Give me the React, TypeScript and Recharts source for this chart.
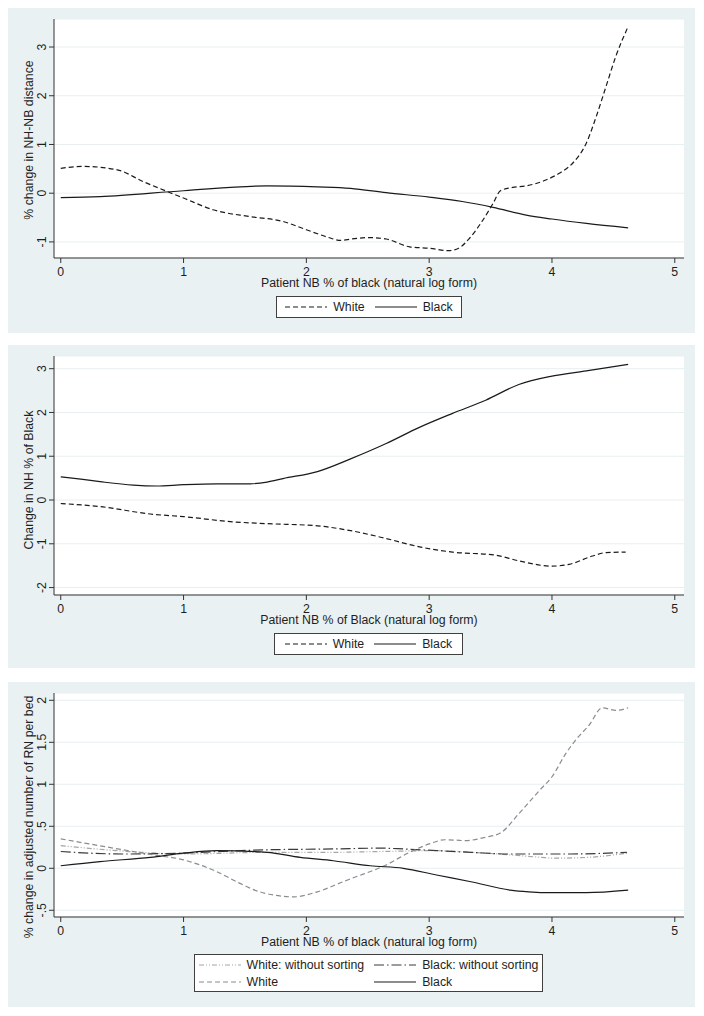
import React from "react";
import { LineChart, Line, XAxis, YAxis, CartesianGrid, Legend } from "recharts";

const X_TICKS = [0, 1, 2, 3, 4, 5];

// top panel: % change in NH-NB distance
const distWhiteX = [0, 0.18, 0.46, 0.67, 0.89, 1.0, 1.24, 1.54, 1.81, 2.0, 2.17, 2.28, 2.37, 2.51, 2.65, 2.84, 3.0, 3.16, 3.24, 3.33, 3.43, 3.52, 3.58, 3.68, 3.79, 3.95, 4.06, 4.17, 4.28, 4.36, 4.44, 4.52, 4.62];
const distWhiteY = [0.51, 0.55, 0.48, 0.24, 0.01, -0.1, -0.34, -0.48, -0.58, -0.75, -0.9, -0.97, -0.94, -0.91, -0.94, -1.1, -1.13, -1.18, -1.13, -0.92, -0.58, -0.21, 0.05, 0.12, 0.15, 0.27, 0.41, 0.62, 1.03, 1.57, 2.19, 2.81, 3.42];
const distBlackX = [0, 0.32, 1.0, 1.68, 2.09, 2.36, 2.65, 3.0, 3.27, 3.52, 3.79, 4.0, 4.28, 4.62];
const distBlackY = [-0.09, -0.07, 0.05, 0.15, 0.13, 0.1, 0.01, -0.08, -0.17, -0.29, -0.45, -0.53, -0.62, -0.71];

// middle panel: change in NH % of Black
const shareWhiteX = [0, 0.32, 0.73, 1.0, 1.41, 1.68, 2.09, 2.36, 2.65, 2.92, 3.19, 3.54, 3.73, 4.0, 4.14, 4.33, 4.44, 4.6];
const shareWhiteY = [-0.08, -0.15, -0.32, -0.38, -0.5, -0.54, -0.59, -0.7, -0.88, -1.07, -1.19, -1.26, -1.39, -1.51, -1.47, -1.28, -1.2, -1.19];
const shareBlackX = [0, 0.18, 0.32, 0.59, 0.78, 1.0, 1.27, 1.54, 1.68, 1.81, 2.09, 2.36, 2.65, 2.92, 3.19, 3.46, 3.73, 4.0, 4.28, 4.62];
const shareBlackY = [0.53, 0.47, 0.42, 0.34, 0.32, 0.35, 0.37, 0.37, 0.41, 0.49, 0.65, 0.94, 1.29, 1.66, 1.98, 2.28, 2.64, 2.83, 2.95, 3.1];

// bottom panel: % change in adjusted RN per bed
const rnWhiteNsX = [0, 0.66, 1.0, 1.68, 2.22, 2.6, 3.06, 3.34, 3.66, 3.91, 4.01, 4.29, 4.61];
const rnWhiteNsY = [0.27, 0.19, 0.17, 0.19, 0.19, 0.2, 0.21, 0.19, 0.16, 0.13, 0.12, 0.13, 0.18];
const rnBlackNsX = [0, 0.5, 1.0, 1.14, 1.68, 2.22, 2.6, 2.79, 3.06, 3.34, 3.66, 4.15, 4.61];
const rnBlackNsY = [0.2, 0.17, 0.18, 0.19, 0.22, 0.23, 0.24, 0.23, 0.21, 0.19, 0.17, 0.17, 0.19];
const rnWhiteX = [0, 0.75, 1.0, 1.27, 1.46, 1.62, 1.9, 2.09, 2.3, 2.37, 2.65, 2.84, 3.0, 3.13, 3.3, 3.46, 3.58, 3.73, 3.9, 4.0, 4.11, 4.2, 4.3, 4.41, 4.52, 4.62];
const rnWhiteY = [0.35, 0.16, 0.1, -0.04, -0.18, -0.28, -0.34, -0.28, -0.16, -0.12, 0.04, 0.19, 0.29, 0.34, 0.33, 0.37, 0.42, 0.65, 0.93, 1.09, 1.36, 1.54, 1.7, 1.91, 1.88, 1.91];
const rnBlackX = [0, 0.32, 0.73, 1.0, 1.27, 1.68, 1.95, 2.22, 2.52, 2.79, 3.06, 3.34, 3.66, 3.81, 4.0, 4.28, 4.62];
const rnBlackY = [0.03, 0.08, 0.13, 0.18, 0.21, 0.19, 0.13, 0.09, 0.03, 0.0, -0.08, -0.16, -0.26, -0.28, -0.29, -0.29, -0.26];

const BG = "#eaf1f3";
const GRID = "#e8eff1";
const INK = "#1e1e1e";
const AXIS = "#333";
const FONT = '"Liberation Sans", Arial, sans-serif';
const FS = 12.3;

const pts = (xs: number[], ys: number[]) => xs.map((x, i) => ({ x, y: ys[i] }));
const stataNum = (v: number) => String(v).replace(/^(-?)0\./, "$1.");

type Series = { name: string; xs: number[]; ys: number[]; stroke: string; dash?: string };

function YTick(props: any) {
  const { x, y, payload } = props;
  return (
    <text x={x} y={y} transform={`rotate(-90, ${x}, ${y})`} textAnchor="middle" fontSize={FS} fill={INK} fontFamily={FONT}>
      {stataNum(payload.value)}
    </text>
  );
}

function XTitle(props: any) {
  const { viewBox, value } = props;
  return (
    <text x={viewBox.x + viewBox.width / 2} y={viewBox.y + 29} textAnchor="middle" fontSize={FS} fill={INK} fontFamily={FONT}>
      {value}
    </text>
  );
}

function YTitle(props: any) {
  const { viewBox, value, shift } = props;
  const x = viewBox.x + 24.5;
  const y = viewBox.y + viewBox.height / 2 + shift;
  return (
    <text x={x} y={y} transform={`rotate(-90, ${x}, ${y})`} textAnchor="middle" fontSize={FS} fill={INK} fontFamily={FONT}>
      {value}
    </text>
  );
}

function Sample({ s }: { s: Series }) {
  return (
    <svg width={42} height={10} style={{ display: "block", flex: "none" }}>
      <line x1={0} y1={5} x2={42} y2={5} stroke={s.stroke} strokeWidth={1.2} strokeDasharray={s.dash} />
    </svg>
  );
}

function LegendBox({ series, cols, height }: { series: Series[]; cols: number; height: number }) {
  return (
    <div
      style={{
        boxSizing: "border-box",
        height,
        border: "1px solid #404040",
        background: "#fff",
        display: "grid",
        gridTemplateColumns: `repeat(${cols}, auto)`,
        justifyContent: "center",
        alignContent: "center",
        columnGap: 10,
        rowGap: 2,
        fontFamily: FONT,
        fontSize: FS,
        color: INK,
        whiteSpace: "nowrap",
      }}
    >
      {series.map((s) => (
        <div key={s.name} style={{ display: "flex", alignItems: "center", gap: 6, height: 15 }}>
          <Sample s={s} />
          <span>{s.name}</span>
        </div>
      ))}
    </div>
  );
}

type PanelProps = {
  top: number;
  height: number;
  bottomMargin: number;
  xAxisHeight: number;
  yDomain: [number, number];
  yTicks: number[];
  yLabel: string;
  yShift: number;
  xLabel: string;
  series: Series[];
  legendLeft: number;
  legendWidth: number;
  legendHeight: number;
  legendCols: number;
};

function Panel(p: PanelProps) {
  return (
    <div style={{ position: "absolute", left: 0, top: p.top, width: 687, height: p.height, background: BG }}>
      <LineChart width={687} height={p.height} margin={{ top: 11, right: 11, left: 0, bottom: p.bottomMargin }}>
        <CartesianGrid vertical={false} stroke={GRID} fill="#fff" />
        <XAxis
          type="number"
          dataKey="x"
          domain={[-0.055, 5.075]}
          ticks={X_TICKS}
          interval={0}
          allowDataOverflow
          height={p.xAxisHeight}
          tickSize={5}
          tickMargin={4}
          stroke={AXIS}
          tick={{ fill: INK, fontSize: FS, fontFamily: FONT }}
          label={<XTitle value={p.xLabel} />}
        />
        <YAxis
          type="number"
          domain={p.yDomain}
          ticks={p.yTicks}
          interval={0}
          allowDataOverflow
          width={46}
          tickSize={5}
          tickMargin={3}
          stroke={AXIS}
          tick={<YTick />}
          label={<YTitle value={p.yLabel} shift={p.yShift} />}
        />
        <Legend
          verticalAlign="bottom"
          content={() => <LegendBox series={p.series} cols={p.legendCols} height={p.legendHeight} />}
          wrapperStyle={{ left: p.legendLeft, bottom: p.bottomMargin, width: p.legendWidth, height: p.legendHeight }}
        />
        {p.series.map((s) => (
          <Line
            key={s.name}
            name={s.name}
            data={pts(s.xs, s.ys)}
            dataKey="y"
            type="monotone"
            stroke={s.stroke}
            strokeWidth={1.2}
            strokeDasharray={s.dash}
            dot={false}
            activeDot={false}
            isAnimationActive={false}
          />
        ))}
      </LineChart>
    </div>
  );
}

export default function App() {
  const dark = "#1a1a1a";
  return (
    <div style={{ position: "relative", width: 687, height: 1000 }}>
      <Panel
        top={0}
        height={325}
        bottomMargin={15}
        xAxisHeight={38}
        yDomain={[-1.33, 3.575]}
        yTicks={[-1, 0, 1, 2, 3]}
        yLabel="% change in NH-NB distance"
        yShift={1.5}
        xLabel="Patient NB % of black (natural log form)"
        series={[
          { name: "White", xs: distWhiteX, ys: distWhiteY, stroke: dark, dash: "5 3" },
          { name: "Black", xs: distBlackX, ys: distBlackY, stroke: dark },
        ]}
        legendLeft={268}
        legendWidth={186}
        legendHeight={22}
        legendCols={2}
      />
      <Panel
        top={337}
        height={323}
        bottomMargin={13}
        xAxisHeight={38}
        yDomain={[-2.17, 3.29]}
        yTicks={[-2, -1, 0, 1, 2, 3]}
        yLabel="Change in NH % of Black"
        yShift={4.5}
        xLabel="Patient NB % of Black (natural log form)"
        series={[
          { name: "White", xs: shareWhiteX, ys: shareWhiteY, stroke: dark, dash: "5 3" },
          { name: "Black", xs: shareBlackX, ys: shareBlackY, stroke: dark },
        ]}
        legendLeft={266}
        legendWidth={189}
        legendHeight={22}
        legendCols={2}
      />
      <Panel
        top={674}
        height={325}
        bottomMargin={15}
        xAxisHeight={37}
        yDomain={[-0.58, 2.087]}
        yTicks={[-0.5, 0, 0.5, 1, 1.5, 2]}
        yLabel="% change in adjusted number of RN per bed"
        yShift={12}
        xLabel="Patient NB % of black (natural log form)"
        series={[
          { name: "White: without sorting", xs: rnWhiteNsX, ys: rnWhiteNsY, stroke: "#a6a6a6", dash: "5 2 1 2 1 2" },
          { name: "Black: without sorting", xs: rnBlackNsX, ys: rnBlackNsY, stroke: "#3a3a3a", dash: "10 3 1.5 3" },
          { name: "White", xs: rnWhiteX, ys: rnWhiteY, stroke: "#8c8c8c", dash: "5 3" },
          { name: "Black", xs: rnBlackX, ys: rnBlackY, stroke: dark },
        ]}
        legendLeft={186}
        legendWidth={349}
        legendHeight={38}
        legendCols={2}
      />
    </div>
  );
}
